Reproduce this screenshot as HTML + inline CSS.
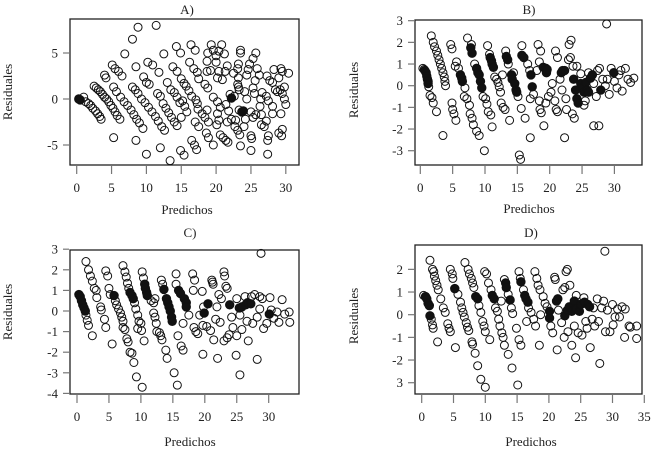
<!DOCTYPE html>
<html><head><meta charset="utf-8"><style>
html,body{margin:0;padding:0;background:#fff}
svg{display:block}
text{font-family:"Liberation Serif",serif;fill:#222}
</style></head><body>
<svg id="chart" width="652" height="452" viewBox="0 0 652 452"></svg>
<script>
const panelTitles = ["A)","B)","C)","D)"];
const xTicksA = [0,5,10,15,20,25,30];
const yTicksA = [-5,0,5];
const xTicksB = [0,5,10,15,20,25,30];
const yTicksB = [-3,-2,-1,0,1,2,3];
const xTicksC = [0,5,10,15,20,25,30];
const yTicksC = [-4,-3,-2,-1,0,1,2,3];
const xTicksD = [0,5,10,15,20,25,30,35];
const yTicksD = [-3,-2,-1,0,1,2];
const yTickLabelsD = ["3","-2","-1","0","1","2"];

const openA = [[1,0.2],[1.3,-0.3],[1.7,-0.5],[2,-0.7],[2.3,-1],[2.7,-1.3],[3,-1.6],[3.3,-1.9],[3.5,-2.2],
[2.5,1.4],[2.8,1.2],[3.1,1],[3.4,0.8],[3.7,0.5],[4,0.2],[4.3,0],[4.6,-0.3],[4.9,-0.7],[5.2,-1],[5.5,-1.4],[5.8,-1.8],[6.2,-2.2],[4,2.6],[4.2,2.3],
[5.1,3.7],[5.5,3.3],[6,3],[6.5,2.5],[5.3,1.3],[5.7,0.8],[6.3,0.2],[6.8,-0.3],[7.3,-0.7],[7.8,-1.2],[8.2,-1.7],[8.6,-2.2],[9,-2.6],[9.5,-3.2],[5.3,-4.2],[6.9,4.9],
[8,6.5],[8.8,7.8],[8.5,3.5],[8,1.3],[8.4,1],[8.8,0.6],[9.3,0],[9.8,-0.4],[10.3,-0.9],[10.8,-1.4],[11.3,-1.9],[11.7,-2.4],[12.2,-3],[12.6,-3.4],[8.5,-4.5],[9.6,2.4],[10,1.8],[10.4,1.6],[10.2,4],[10.9,3.7],[10,-6],[11.4,8],
[12.5,4.9],[11.8,2.9],[12,0.3],[12.4,-0.5],[12.8,-1],[13.2,-1.5],[13.6,-2],[14,-2.5],[14.4,-2.9],[11.6,0.6],[12,-5.3],[13.4,-6.7],[13,1.8],[13.5,1],[14,0.7],[14.4,0.2],[14.8,-0.4],
[14.3,5.7],[14.9,5],[13.8,3.5],[14.4,3],[15,2.2],[15.4,1.7],[15.7,1.4],[16.1,0.9],[16.5,0.3],[15.2,-0.2],[15.5,-0.8],[15.8,-1.4],[15,-2],[14.9,-5.6],[15.4,-6.1],[16.5,-4.5],[16.9,-5],[17.2,-5.5],[17,-2.5],[17.5,-3],
[16.4,5.9],[17,5.3],[16.2,4],[16.8,3.3],[17.3,2.9],[17.5,2.2],[17.1,-0.1],[17.3,-0.5],[17.4,-1.1],[18,-1.6],[18.4,-2],[18.7,-1.2],[18.9,-2.5],[18.6,-3.7],[18.9,-4.2],[19.6,-5],[18.8,1.2],[18.4,1.6],[18.7,3],[19.2,3.1],[18.7,4.1],[18.8,5],[19.3,5.9],[19.6,5.3],[20,4.7],[20.4,5.2],[20.8,5.9],[21.2,4.9],[20,4],[20.4,3],[20.2,2.3],[20.9,2.1],[21.3,3],[21.6,3.6],[19.6,0.2],[20.2,-0.3],[20.6,-0.9],[20.2,-1.6],[20.4,-2.3],[20.1,-2.8],[20.6,-3.9],[21,-4.2],[21.4,-4.5],[21.7,-4.7],[21.4,-0.6],[21.8,-1.3],[21.6,-2.5],[22.2,-2.2],[22,0.5],[22.6,0.3],[22.7,-3],[23.1,-3.4],[23.4,-3.9],[22.8,-2.3],[23.2,2.3],[22.5,2.8],[23.1,3.3],[23.1,1.6],[23.2,1.3],[23.3,1],[23.3,-1.2],[23.2,3.8],[23.5,5.3],[23.5,5],[23.5,-5.1],[24,-3],[24.2,-2.2],[24.4,0],[24.1,0.8],[24.4,2.6],[24.6,3.2],[24.8,3.8],[25.3,4.4],[25.7,5],[25,-1.4],[25.3,-2],[25,-4],[25.1,-4.3],[25,-5.6],[25.7,-1.7],[25.5,0.6],[25.3,1.2],[25.6,2],[25.9,3.3],[26.2,2.6],[26.4,0],[26.3,-0.8],[26.5,-1.7],[26.5,-2.8],[26.9,-3],[27.2,-2.4],[27.5,-0.2],[27.2,0.3],[27.5,-4],[27.4,-4.5],[27.4,-6],[27.3,2.5],[27.7,2],[28.1,1.8],[28.3,3.2],[28.5,1],[28.8,0.8],[28.1,-0.8],[28.1,-1.6],[29,-3.7],[29.4,-4],[29.5,-3.3],[29.3,-1.6],[29.2,1],[29.5,0.6],[29.3,3.3],[29.5,3],[30.4,2.8],[29.8,1.3],[29.8,0],[30,-0.6],[29,2.3],[26.6,0.7]];
const filledA = [[0.3,0],[0.5,-0.1],[22.2,0.1],[23.7,-1.4],[23.9,-1.3]];

const openB = [[0.4,0.8],[0.6,0.75],[1.3,-0.05],[1.5,-0.45],[1.8,-0.55],[2,-0.8],[2.5,-1.2],[3.5,-2.3],
[1.7,2.3],[2,2],[2.2,1.8],[2.5,1.6],[2.7,1.4],[2.9,1.2],[3.1,1],[3.3,0.8],[3.5,0.6],[3.7,0.4],[3.8,0.2],[3.9,0],[4.7,1.9],[4.9,1.7],[4.9,-0.8],[5,-1.1],[5.2,-1.3],[5.5,-1.6],
[5.6,1.1],[5.4,0.9],[5.9,0.8],[6.9,-0.1],[6.8,-0.5],[7.2,-0.6],[7.6,-0.9],[7.7,-1.3],[8,-1.5],[8.2,-1.8],[8.7,-2.1],[9.1,-2.3],[7.3,2.2],[7.9,1.9],
[8.4,1.0],[9.7,-0.5],[10.1,-0.6],[10.3,-0.85],[10.5,-1.2],[10.9,-1.35],[11.1,-1.9],[9.9,-3],[10.4,1.85],[10.7,1.45],
[11.5,0.4],[11.8,0.3],[12,0.15],[12.2,-0.05],[12.4,-0.3],[12.5,-0.8],[12.8,-1],[13.1,-1.1],[13.8,-1.6],[12.7,0.5],[13.2,1.6],
[13.6,1],[14.4,0.6],[15.1,-0.5],[15.6,-1.05],[16.2,-1.5],[15.3,-3.2],[15.5,-3.4],[15.7,1.85],
[16.6,1],[16.9,0.7],[17,-0.6],[17.5,-0.4],[17,-2.4],[18.2,1.9],[18.6,1.6],[18.4,1.1],[18,0.7],[18.4,-0.7],[18.5,-1.1],[18.7,-1.25],[19.1,-1.85],[19.4,-0.8],
[20.4,0.1],[20.2,-0.3],[19.8,-0.5],[20.8,-0.7],[21,-1.1],[21.2,-1.2],[20.9,1.6],[21.2,1.3],[21.6,0.3],[21.9,-0.2],[22.5,-0.6],[22.6,-1.1],[22.9,1.2],[23.2,1.3],[23,1.9],[23.3,2.1],[22.3,-2.4],[23.5,-1.3],[23.8,-1.5],[23.6,0.9],[24.2,0.9],[24.8,0.55],[25.3,-0.9],[25.5,-0.7],[26,0.6],[26.8,-1.85],[27.6,-1.85],[27.2,-0.5],[27.7,0.8],[28.2,0.3],[28.6,0],[28.9,0.3],[29.2,-0.4],[28.8,2.85],[29.5,0.8],[30,0.2],[30.4,-0.1],[30.7,0.5],[31,0.7],[31.2,-0.25],[31.7,0.8],[32.1,0.3],[32.5,0.15],[33,0.35],[26.8,0.1],[27.4,0.7]];
const filledB = [[0.7,0.7],[0.9,0.6],[1,0.45],[1.1,0.3],[1.2,0.2],[1.2,0.1],[6.2,0.5],[6.4,0.35],[6.5,0.2],[7.8,1.75],[8,1.5],
[8.7,0.8],[8.9,0.6],[9.1,0.5],[9.3,0.2],[9.5,-0.1],[10.8,1.3],[11,1.15],[11.1,1],[11.3,0.85],
[13.3,1.35],[13.5,1.2],[14.1,0.5],[14.2,0.3],[14.6,0.1],[14.8,-0.2],[14.9,-0.3],[15.7,1.4],[16,1.3],[17.1,0.5],[17.3,-0.05],
[19,0.85],[19.4,0.8],[19.5,0.6],[19.6,0.75],[21.8,0.6],[22,0.7],[22.3,0.7],[23.7,0.3],[24,-0.2],[24.2,-0.6],[24.4,-0.8],[24.8,0.1],[25.1,-0.1],[25.3,-0.3],[25.6,0.15],[25.8,-0.2],[26,-0.3],[26.3,0.35],[26.6,0.5],[27.9,-0.2],[29.9,0.6]];

const openC = [[1.4,-0.2],[1.6,-0.45],[1.8,-0.7],[2.4,-1.2],[1.4,2.4],[1.8,2],[2.1,1.7],[2.4,1.45],[2.7,1.1],[3,1],[3.1,0.65],[3.7,0.2],[3.8,0.05],[4.3,-0.4],[4.5,-0.8],[4.5,1.95],[4.8,1.7],[5,1.1],[5.2,0.8],[5.5,-1.6],
[6,0.5],[6.2,0.3],[6.5,0.1],[6.8,-0.1],[7,-0.3],[7.2,-0.5],[7.2,-0.8],[7.5,-0.9],[7.8,-1.35],[8,-1.5],[8.3,-2],[8.6,-2.05],[8.9,-2.5],[9.3,-3.2],[10.2,-3.7],[7.2,2.2],[7.5,1.9],[7.7,1.65],[7.9,1.35],[8.1,1.1],
[9,0.4],[9.2,0.1],[9.5,-0.2],[9.7,-0.5],[10,-0.6],[10.1,-0.95],[10.5,-1.45],[9.5,-0.85],[10.2,1.9],[10.4,1.6],
[11.6,0.5],[12,0.4],[12.2,0.6],[12,-0.1],[12.2,-0.3],[12.4,-0.6],[12.5,-1],[12.9,-1.05],[13.1,-1.2],[13.3,-1.4],[13.9,-1.9],[14.1,-2.3],[15.2,-3],[15.7,-3.6],[13.2,1.5],[13.4,1.3],
[15.5,1.3],[15.5,1.8],[15.8,-1.2],[16.3,-1.7],[16.6,-1.9],[16.6,-0.6],
[17.5,-0.2],[18.1,1.8],[18.4,1.5],[18.2,1],[18.3,-0.8],[18.6,-1],[18.9,-1.1],[19.2,-0.2],[19.6,0.95],[19.7,-2.1],[19.8,0.2],[19.7,-0.7],[20.3,-0.75],
[21.1,1.5],[21.2,1.4],[21.3,1.3],[20.9,-0.95],[21.4,-1.4],[21.7,-0.4],[21.9,0.2],[22,-2.3],[22.2,0.8],[22.6,0.6],[22.4,-0.55],[23,1.9],[23.1,1.7],[23.3,1.2],[23.5,1.1],[23,-1.45],[23.5,-1.3],[23.8,-1.15],[24.2,-0.3],[24.4,-0.8],[24.9,-2.15],[25,-1.2],[25,0.6],[25.5,-0.2],[25.5,-3.1],[25.8,-0.9],[26.3,0.7],[26.6,-0.5],[26.8,-1.45],[27.3,0.7],[27.5,-0.6],[27.8,0.8],[28.2,-0.3],[28.6,0.1],[28.2,-2.35],[28.8,2.8],[28.6,0.7],[29,0.6],[29.2,-0.85],[29.7,-0.6],[30.2,0.65],[30.4,0.05],[30.8,-0.35],[31.3,-0.05],[31.6,-0.55],[32.1,0.55],[32.5,-0.15],[33.2,-0.05],[33.3,-0.55]];
const filledC = [[0.3,0.8],[0.5,0.7],[0.7,0.5],[0.9,0.3],[1.1,0.15],[1.3,0],[5.8,0.75],[8.3,0.9],[8.6,0.75],[8.8,0.6],
[10.6,1.3],[10.7,1.1],[10.9,0.9],[11,0.75],[13.6,1.05],[14,0.6],[14.2,0.4],[14.4,0.2],[14.6,0],[14.8,-0.3],[14.9,-0.5],
[15.9,1],[16.2,0.85],[16.8,0.6],[17.1,0.4],[17.1,0.2],[19.9,-0.1],[20.5,0.35],[23.9,0.3],[25.4,0.15],[25.8,0.2],[26.4,0.3],[26.7,0.4],[27.2,0.35],[30.1,-0.15]];

const openD = [[0.3,0.85],[1.5,-0.2],[1.7,-0.45],[1.8,-0.6],[2.5,-1.2],[1.3,2.4],[1.7,2],[1.9,1.9],[2,1.7],[2.2,1.5],[2.4,1.3],[2.6,1.1],[3,0.7],[3.4,0.3],[3.7,0.1],[4.1,-0.4],[4.3,-0.6],[4.5,-0.75],[4.5,2],[4.8,1.8],[4.9,1.6],[5.3,-1.45],
[5.7,0.9],[6.1,0.55],[6.3,0.3],[6.5,0.1],[6.7,-0.1],[7,-0.35],[7.2,-0.55],[7.4,-0.7],[7.9,-1.2],[8,-1.3],[8.4,-1.7],[8.8,-2.25],[9.3,-2.85],[10,-3.2],[6.8,2.3],[7.3,2],[7.5,1.8],[7.8,1.6],[8,1.4],[8.2,1.2],
[9,0.4],[9.3,0.1],[9.6,-0.3],[9.8,-0.5],[10,-0.75],[10.7,-1.1],[9.9,1.9],[10.2,1.8],[10.5,1.4],[10.9,1.1],
[11.6,0.3],[11.9,0.15],[12.1,-0.2],[12.3,-0.5],[12.6,-0.8],[12.8,-1],[13,-1.35],[13.6,-1.75],[14.2,-2.35],[15.1,-3.1],[12.5,0.6],[13,1.55],
[13.6,0.9],[14.1,0.3],[14.3,0.05],[14.9,-0.6],[15.3,-1.1],[15.6,-1.35],[15.3,1.9],[15.5,1.6],
[16,1.1],[16.5,-0.3],[16.8,0.3],[17.2,0.1],[17.6,-0.2],[17.9,-0.5],[17.8,1.9],[18.1,1.6],[18.3,1.3],[18.6,1.1],[18.7,0],[18.5,-1.35],[19.1,0.8],[19.4,0.5],[19.7,0.35],[20.3,-0.5],[20.6,-0.8],
[20.9,1.65],[21,1.55],[21.3,-1.55],[21.5,0.2],[22,-0.35],[22.2,1.1],[22.5,1.2],[22.7,1.9],[22.9,2],[23.3,1.3],[22.4,-1],[23,-0.75],[23.6,-1.35],[24,-0.5],[24.2,-1.9],[24.6,-0.8],[24.3,0.85],[25.2,-0.9],[25.5,0.75],[25.8,-0.3],[26,-0.6],[26.5,-1.45],[26.8,-0.2],[27,0.3],[27.2,-0.5],[27.6,0.7],[27.8,-0.3],[28,-2.15],[28.3,0.3],[28.6,0.6],[28.8,2.8],[28.9,-0.75],[29.2,0.2],[29.6,-0.75],[30,0.45],[30.1,-0.45],[30.4,-0.1],[30.8,0.25],[31.1,-0.1],[31.5,0.35],[32,0.25],[31.9,-1],[32.6,-0.5],[32.8,-0.55],[33.8,-0.5],[33.8,-1.05]];
const filledD = [[0.6,0.8],[0.8,0.7],[1,0.5],[1.2,0.4],[1.3,-0.05],[5.2,1.15],[8.5,0.8],[8.8,0.7],[11.1,0.85],[11.4,0.7],
[13.2,1.4],[13.3,1.2],[13.9,0.65],[15.6,1.45],[16.2,0.85],[16.4,0.7],[16.7,0.55],
[20.1,0.15],[20.1,-0.15],[21.2,0.6],[21.4,0.7],[22.5,-0.05],[22.9,0.2],[23.2,0.35],[23.6,0.15],[24,0.6],[24.3,0.25],[24.8,0.15],[25,0.45],[25.6,0.55],[26.1,0.45],[26.4,0.35]];

const NS = "http://www.w3.org/2000/svg";
const svg = document.getElementById("chart");
function mk(tag, attrs, parent){
  const e = document.createElementNS(NS, tag);
  for (const k in attrs) e.setAttribute(k, attrs[k]);
  (parent||svg).appendChild(e);
  return e;
}
function panel(id, cfg){
  const g = mk("g", {});
  
  
  const sx = v => cfg.x0 + v*cfg.kx;
  const sy = v => cfg.y0 - v*cfg.ky;
  const box = mk("rect", {x:cfg.L, y:cfg.T, width:cfg.R-cfg.L, height:cfg.B-cfg.T, fill:"none", stroke:"#222", "stroke-width":1.3}, g);
  
  
  cfg.xt.forEach(v => {
    const t = mk("line", {x1:sx(v), x2:sx(v), y1:cfg.B+1, y2:cfg.B+9, stroke:"#777", "stroke-width":1.2}, g);
    
    
    const l = mk("text", {x:sx(v), y:cfg.B+27, "text-anchor":"middle", "font-size":13}, g);
    
    
    l.textContent = v;
  });
  cfg.yt.forEach((v,i) => {
    const t = mk("line", {x1:cfg.L-7, x2:cfg.L-1, y1:sy(v), y2:sy(v), stroke:"#777", "stroke-width":1.2}, g);
    
    
    const l = mk("text", {x:cfg.L-12, y:sy(v)+4.5, "text-anchor":"end", "font-size":13}, g);
    
    
    l.textContent = cfg.ytl ? cfg.ytl[i] : v;
  });
  const ti = mk("text", {x:cfg.tx, y:cfg.ty, "text-anchor":"middle", "font-size":13}, g);
  
  
  ti.textContent = cfg.title;
  const xl = mk("text", {x:cfg.tx, y:cfg.xly, "text-anchor":"middle", "font-size":13}, g);
  
  
  xl.textContent = "Predichos";
  const yl = mk("text", {x:0, y:0, "text-anchor":"middle", "font-size":13, transform:"translate("+cfg.ylx+","+cfg.yly+") rotate(-90)"}, g);
  
  
  yl.textContent = "Residuales";
  cfg.open.forEach(p => {
    const c = mk("circle", {cx:sx(p[0]), cy:sy(p[1]), r:4, fill:"none", stroke:"#111", "stroke-width":1}, g);
    
    
  });
  cfg.filled.forEach(p => {
    const c = mk("circle", {cx:sx(p[0]), cy:sy(p[1]), r:4.2, fill:"#111", stroke:"#111", "stroke-width":1}, g);
    
    
  });
}
panel("a", {L:70,R:299,T:19,B:165,x0:76.7,kx:6.97,y0:99,ky:9.2,xt:xTicksA,yt:yTicksA,title:panelTitles[0],tx:187,ty:14,xly:214,ylx:12,yly:92,open:openA,filled:filledA});
panel("b", {L:415,R:642,T:20,B:165,x0:420.3,kx:6.47,y0:85.7,ky:21.67,xt:xTicksB,yt:yTicksB,title:panelTitles[1],tx:529,ty:14,xly:213,ylx:358,yly:90,open:openB,filled:filledB});
panel("c", {L:70,R:299,T:250,B:394,x0:77,kx:6.39,y0:311,ky:20.6,xt:xTicksC,yt:yTicksC,title:panelTitles[2],tx:190,ty:237,xly:446,ylx:12,yly:312,open:openC,filled:filledC});
panel("d", {L:415,R:642,T:245,B:394,x0:421.7,kx:6.36,y0:314.7,ky:22.67,xt:xTicksD,yt:yTicksD,ytl:yTickLabelsD,title:panelTitles[3],tx:531,ty:237,xly:446,ylx:358,yly:316,open:openD,filled:filledD});
</script>
</body></html>
